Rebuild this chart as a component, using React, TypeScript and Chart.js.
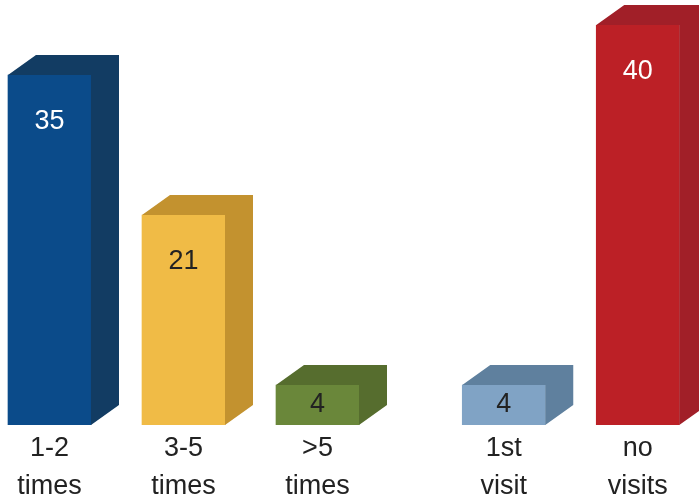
import React, { useEffect, useRef } from 'react';
import { Chart, registerables } from 'chart.js';

Chart.register(...registerables);

// ---- data ----
const categories: string[][] = [
  ['1-2', 'times'],
  ['3-5', 'times'],
  ['>5', 'times'],
  ['1st', 'visit'],
  ['no', 'visits'],
];
const values: number[] = [35, 21, 4, 4, 40];
// slot of each category along the x axis (a gap separates the first three from the last two)
const slots: number[] = [0, 1, 2, 3.39, 4.39];

// ---- styles ----
const frontColors = ['#0b4b8a', '#f0bb46', '#6a873a', '#80a3c5', '#bc2026'];
const sideColors = ['#123c63', '#c3922f', '#566d2e', '#5f809e', '#a11f28'];
const valueLabelColors = ['#ffffff', '#222222', '#222222', '#222222', '#ffffff'];
const FONT = '"Liberation Sans", Arial, sans-serif';
const DEPTH_X = 28;
const DEPTH_Y = 20;

const bar3d = {
  id: 'bar3d',
  afterDatasetsDraw(chart: any) {
    const ctx = chart.ctx as CanvasRenderingContext2D;
    const meta = chart.getDatasetMeta(0);
    meta.data.forEach((el: any, i: number) => {
      const { x, y, base, width } = el.getProps(['x', 'y', 'base', 'width'], true);
      const l = x - width / 2;
      const r = x + width / 2;
      ctx.save();
      ctx.fillStyle = sideColors[i];
      ctx.beginPath();
      ctx.moveTo(l, y);
      ctx.lineTo(l + DEPTH_X, y - DEPTH_Y);
      ctx.lineTo(r + DEPTH_X, y - DEPTH_Y);
      ctx.lineTo(r + DEPTH_X, base - DEPTH_Y);
      ctx.lineTo(r, base);
      ctx.lineTo(r, y);
      ctx.closePath();
      ctx.fill();

      ctx.fillStyle = valueLabelColors[i];
      ctx.font = `27px ${FONT}`;
      ctx.textAlign = 'center';
      ctx.textBaseline = 'middle';
      const ly = Math.min(y + 47, (y + base) / 2);
      ctx.fillText(String(values[i]), x, ly);
      ctx.restore();
    });
  },
};

export default function App() {
  const ref = useRef<HTMLCanvasElement | null>(null);

  useEffect(() => {
    document.body.style.margin = '0';
    const canvas = ref.current;
    if (!canvas) return;
    const chart = new Chart(canvas, {
      type: 'bar',
      data: {
        datasets: [
          {
            data: slots.map((s, i) => ({ x: s, y: values[i] })) as any,
            backgroundColor: frontColors,
            borderWidth: 0,
            barThickness: 83,
          },
        ],
      },
      options: {
        responsive: false,
        animation: false,
        layout: { padding: { top: 25, bottom: -11, left: 0, right: 0 } },
        plugins: {
          legend: { display: false },
          tooltip: { enabled: false },
        },
        scales: {
          x: {
            type: 'linear',
            offset: false,
            min: -0.3694,
            max: 4.847,
            bounds: 'data',
            grid: { display: false, drawTicks: false, offset: false },
            border: { display: false },
            afterBuildTicks: (axis: any) => {
              axis.ticks = slots.map((v) => ({ value: v }));
            },
            ticks: {
              autoSkip: false,
              maxRotation: 0,
              padding: 5,
              color: '#222222',
              font: { size: 27, family: FONT, lineHeight: '38px' as any },
              callback: (_v: any, i: number) => categories[i],
            },
          },
          y: {
            display: false,
            min: 0,
            max: 40,
          },
        },
      },
      plugins: [bar3d],
    });
    return () => chart.destroy();
  }, []);

  return (
    <div style={{ width: 699, height: 500 }}>
      <canvas ref={ref} width={699} height={500} style={{ display: 'block' }} />
    </div>
  );
}
